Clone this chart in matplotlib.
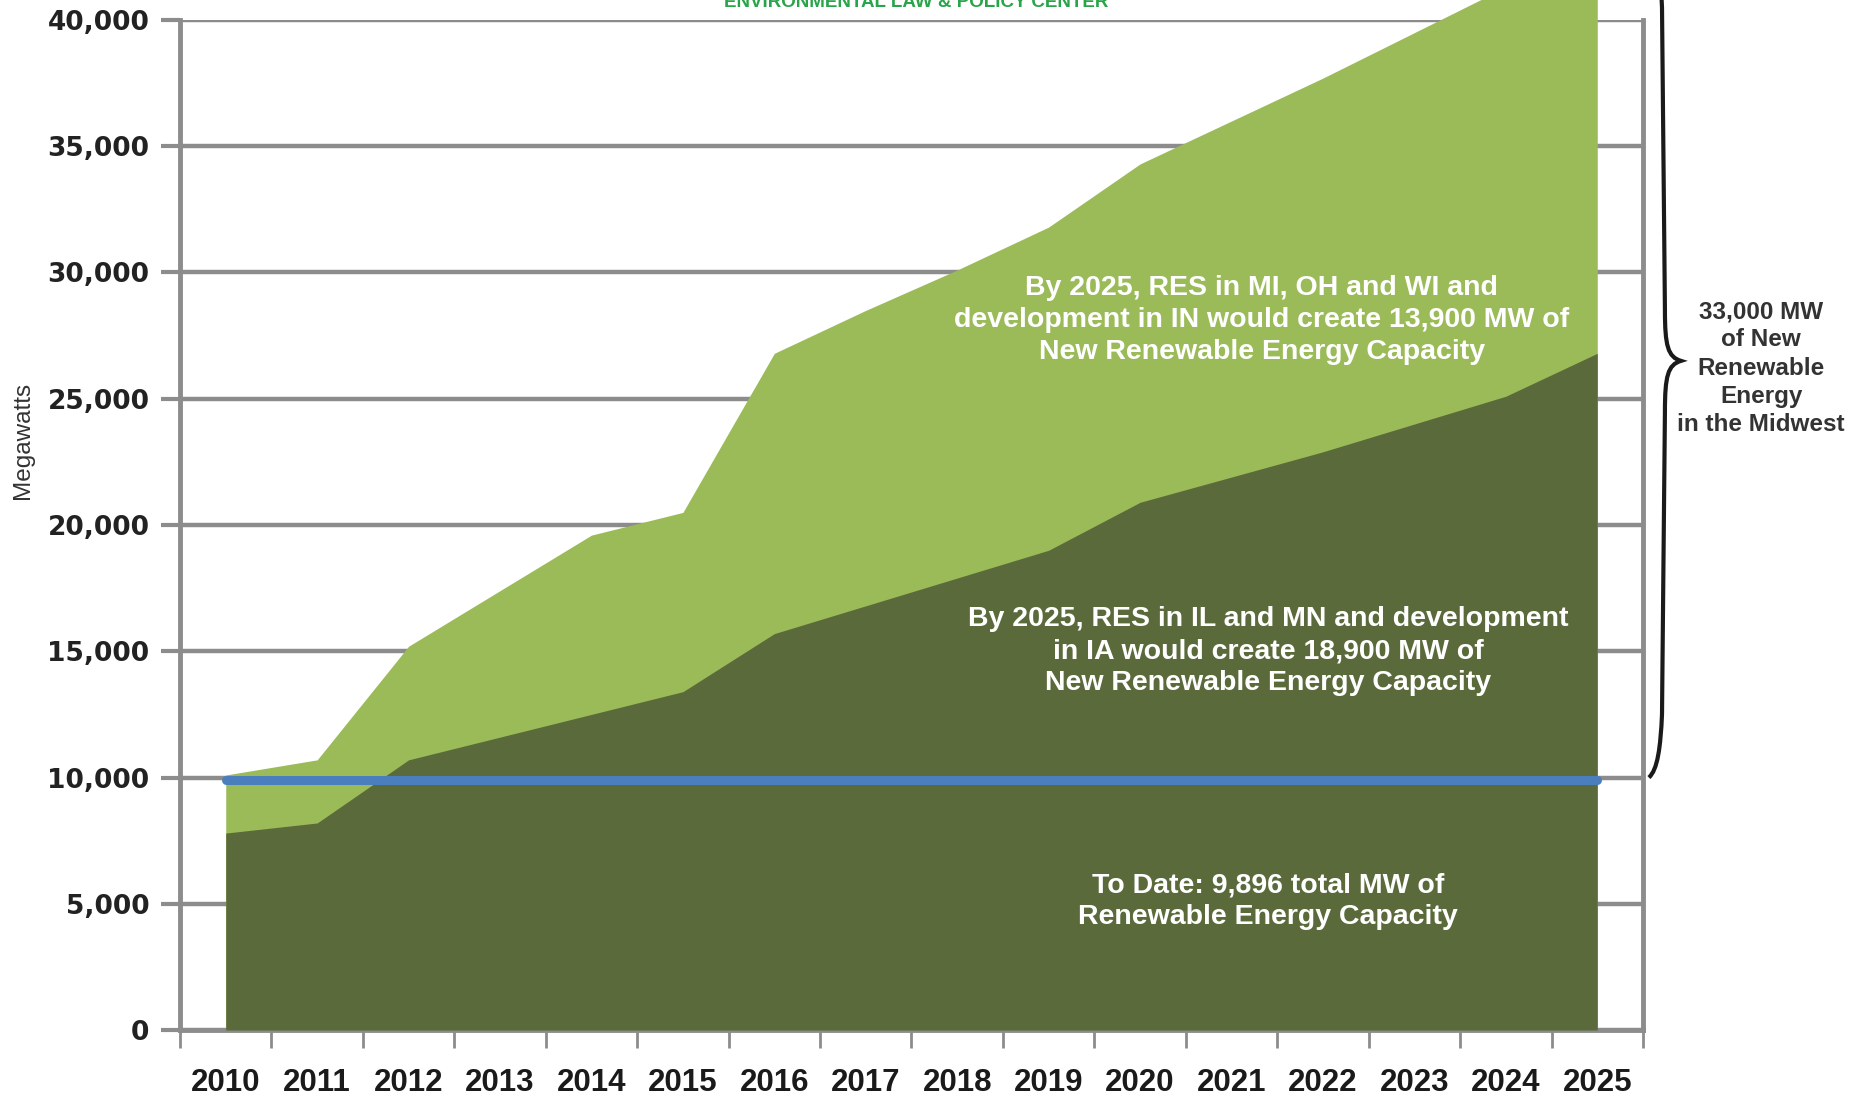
import numpy as np
import matplotlib
matplotlib.use("Agg")
import matplotlib.pyplot as plt
from matplotlib.path import Path
from matplotlib.patches import PathPatch
import matplotlib.transforms as mtransforms

years = [str(y) for y in range(2010, 2026)]

# top of the dark band (IL, MN, IA) and top of the light band (MI, OH, WI, IN), MW
dark_top = [7800, 8200, 10700, 11600, 12500, 13400, 15700, 16800,
            17900, 19000, 20900, 21900, 22900, 24000, 25100, 26800]
light_top = [10100, 10700, 15200, 17400, 19600, 20500, 26800, 28500,
             30100, 31800, 34300, 36000, 37700, 39500, 41300, 43000]
to_date = 9896
new_total = 33000

LIGHT = "#9bbb59"
DARK = "#5b6a3b"
BLUE = "#4a7ebd"
GRID = "#8c8c8c"

fig = plt.figure(figsize=(18.5, 10.98), dpi=100)
ax = fig.add_axes([0.0973, 0.0619, 0.7908, 0.9199])

x = np.arange(len(years))
ax.fill_between(x, 0, light_top, color=LIGHT, lw=0, zorder=2, clip_on=False)
ax.fill_between(x, 0, dark_top, color=DARK, lw=0, zorder=3)
ax.plot([x[0], x[-1]], [to_date, to_date], color=BLUE, lw=6.5,
        solid_capstyle="round", zorder=4)

ax.set_xlim(-0.5, len(years) - 0.5)
ax.set_ylim(0, 40000)
ax.set_yticks(np.arange(0, 40001, 5000))
ax.set_yticklabels([f"{v:,}" for v in range(0, 40001, 5000)],
                   fontsize=19, fontweight="bold", color="#222222",
                   family="DejaVu Sans")
ax.yaxis.grid(True, color=GRID, lw=3.2, zorder=1)
ax.set_axisbelow(True)

ax.set_xticks(np.arange(-0.5, len(years), 1.0))
ax.set_xticklabels([])
ax.set_xticks(x, minor=True)
ax.set_xticklabels(years, minor=True, fontsize=22.5, fontweight="bold",
                   color="#1a1a1a", family="Liberation Sans")
ax.tick_params(axis="x", which="minor", length=0, pad=27)
ax.tick_params(axis="x", which="major", length=13, width=2, color=GRID,
               direction="out")
ax.tick_params(axis="y", length=14, width=3, color=GRID, pad=8)

for side in ["left", "bottom", "right"]:
    ax.spines[side].set_color(GRID)
    ax.spines[side].set_linewidth(3.5)
ax.spines["top"].set_visible(False)

ax.set_ylabel("Megawatts", fontsize=17.5, color="#333333",
              family="Liberation Sans")
ax.yaxis.set_label_coords(-0.1, 0.584)

txt = dict(color="white", fontsize=20.5, fontweight="bold",
           family="Liberation Sans", ha="center", va="center",
           linespacing=1.3, zorder=5)
ax.text(11.33, 28100,
        "By 2025, RES in MI, OH and WI and\n"
        "development in IN would create 13,900 MW of\n"
        "New Renewable Energy Capacity", **txt)
ax.text(11.4, 15000,
        "By 2025, RES in IL and MN and development\n"
        "in IA would create 18,900 MW of\n"
        "New Renewable Energy Capacity", **txt)
ax.text(11.4, 5100,
        "To Date: 9,896 total MW of\n"
        "Renewable Energy Capacity", **txt)

# curly brace spanning the new capacity
trans = mtransforms.blended_transform_factory(ax.transAxes, ax.transData)
y0 = 10000
y1 = y0 + new_total
ym = (y0 + y1) / 2
verts = [
    (1.004, y0),
    (1.010, y0 + 300), (1.012, y0 + 1200), (1.013, y0 + 2500),
    (1.015, ym - 2000),
    (1.015, ym - 600), (1.017, ym - 150), (1.026, ym),
    (1.017, ym + 150), (1.015, ym + 600), (1.015, ym + 2000),
    (1.013, y1 - 2500),
    (1.012, y1 - 1200), (1.010, y1 - 300), (1.004, y1),
]
codes = [Path.MOVETO] + [Path.CURVE4] * 3 + [Path.LINETO] + [Path.CURVE4] * 6 \
    + [Path.LINETO] + [Path.CURVE4] * 3
brace = PathPatch(Path(verts, codes), transform=trans, fill=False,
                  lw=3, edgecolor="#1a1a1a", clip_on=False, zorder=6)
ax.add_patch(brace)

fig.text(0.952, 1 - 368 / 1098,
         "33,000 MW\nof New\nRenewable\nEnergy\nin the Midwest",
         ha="center", va="center", fontsize=17.5, fontweight="bold",
         color="#333333", family="Liberation Sans", linespacing=1.28)

fig.text(0.495, 1 - 7 / 1098, "ENVIRONMENTAL LAW & POLICY CENTER",
         ha="center", va="baseline", fontsize=13.5, fontweight="bold",
         color="#2aa44a", family="Liberation Sans")

fig.savefig("out.png", dpi=100)
